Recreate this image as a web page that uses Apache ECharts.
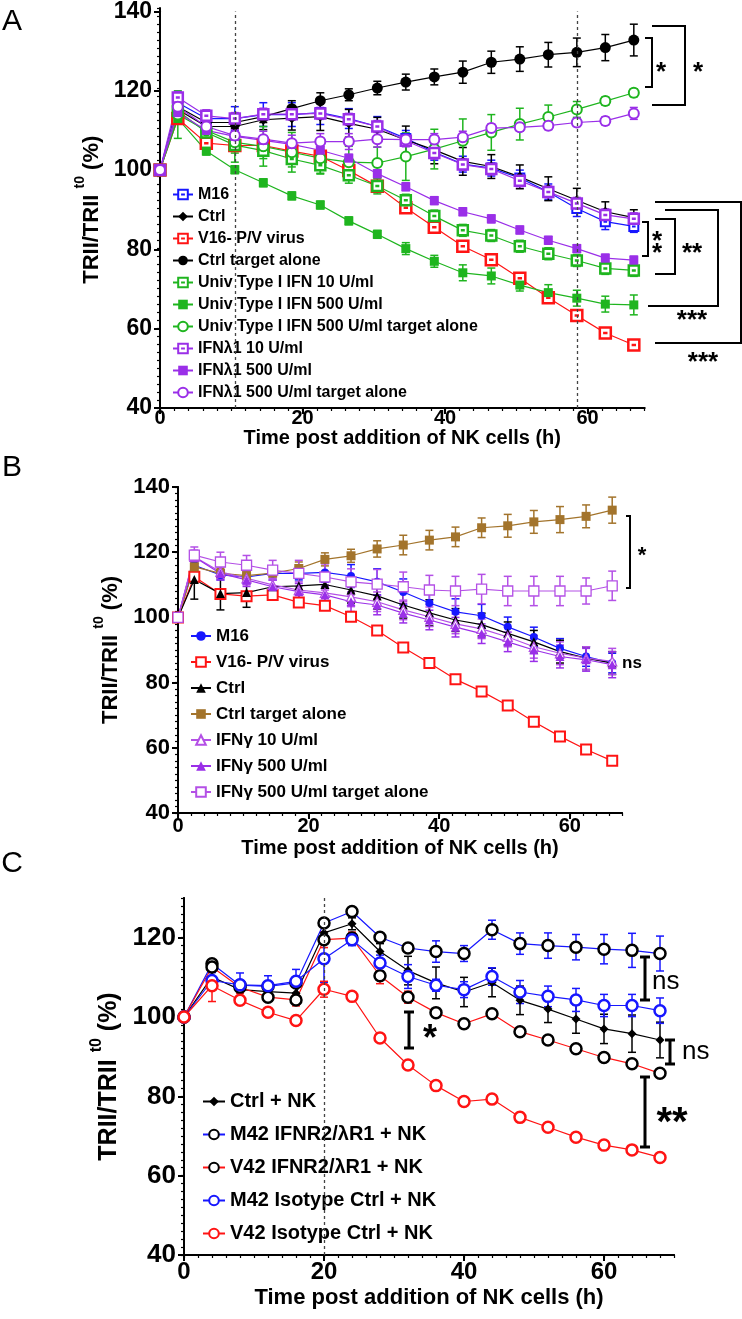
<!DOCTYPE html>
<html>
<head>
<meta charset="utf-8">
<script src="https://cdn.jsdelivr.net/npm/echarts@6/dist/echarts.min.js"></script>
<style>
html, body { margin: 0; padding: 0; background: #fff; }
#main { width: 742px; height: 1319px; }
</style>
</head>
<body>
<div id="main"></div>
<script>
// 时间点 (h)
var timeAB = [0, 2.5, 6.5, 10.5, 14.5, 18.5, 22.5, 26.5, 30.5, 34.5, 38.5, 42.5, 46.5, 50.5, 54.5, 58.5, 62.5, 66.5];
var timeC = [0, 4, 8, 12, 16, 20, 24, 28, 32, 36, 40, 44, 48, 52, 56, 60, 64, 68];
var ticksX = [0, 20, 40, 60];
var ticksYAB = [40, 60, 80, 100, 120, 140];
var ticksYC = [40, 60, 80, 100, 120];
var dottedA = [10.5, 58.5];
var dottedC = [20];

// panel A
var aM16 = [100, 117, 113, 113, 114, 114, 114.5, 113, 111, 108, 104.5, 101.5, 100.5, 98, 94.5, 90.3, 87, 85.8];
var aCtrl = [100, 115.3, 111, 111, 112.7, 113.1, 113.5, 111.8, 110.3, 107.6, 105.1, 102.2, 100.9, 98.3, 95.3, 92.4, 89.5, 88];
var aV16 = [100, 113, 106.8, 106.2, 106.2, 104.8, 103.5, 99.9, 95.9, 90.5, 85.6, 80.8, 77.4, 72.7, 67.8, 63.3, 58.9, 55.9];
var aCtrlAlone = [100, 116, 112, 112, 113.5, 115.5, 117.5, 119, 120.7, 122.2, 123.5, 124.7, 127.2, 128, 129.1, 129.7, 130.9, 132.8];
var aU10 = [100, 115, 109.5, 106.3, 104.9, 102.8, 101.2, 98.7, 96, 92.4, 88.4, 84.8, 83.5, 80.8, 78.9, 77.2, 75.2, 74.7];
var aU500 = [100, 113, 104.8, 100.1, 96.8, 93.5, 91.2, 87.2, 83.8, 80.2, 77, 74.1, 73.3, 71, 69.1, 67.7, 66.2, 66];
var aU500Alone = [100, 114, 110, 107, 106, 104.5, 103, 102, 101.8, 103.4, 105.3, 107.4, 109.5, 111.6, 113.4, 115.3, 117.4, 119.5];
var aL10 = [100, 118.3, 113.7, 113, 114.1, 114.1, 114.3, 112.8, 111, 107.4, 104.3, 101.4, 100.3, 97.3, 94.5, 91.6, 88.7, 87.7];
var aL500 = [100, 114.5, 110, 108.5, 107.5, 106.5, 105, 103, 99.1, 95.8, 92.3, 89.5, 87.7, 84.9, 82.3, 80.2, 77.8, 77.3];
var aL500Alone = [100, 116, 111, 108.7, 107.8, 106.8, 107.2, 107.2, 107.8, 107.7, 107.7, 108.3, 110.6, 110.8, 111.2, 112, 112.4, 114.3];

var eaM16 = [0, 1.5, 1.5, 3, 3, 3, 3, 2.5, 2.5, 2, 2, 2, 2, 2, 2, 2, 2, 1.5];
var eaCtrl = [0, 1.5, 1.5, 2, 2.5, 3, 3.5, 3.5, 3, 3.5, 3.5, 3.5, 3, 3, 3, 3, 2.5, 2];
var eaV16 = [0, 1, 1, 1, 1, 1, 1, 1, 1, 1, 1, 1, 1, 1, 1, 1, 1, 1];
var eaCtrlAlone = [0, 1.5, 1.5, 1.5, 1.5, 2, 2, 1.5, 1.7, 2, 2, 2.8, 2.8, 3.1, 3.1, 3.6, 3.3, 4];
var eaU10 = [0, 2, 2, 2, 2, 2, 2, 2, 2, 1.5, 1.5, 1.5, 1.5, 1.5, 1.5, 1.5, 1.5, 1.5];
var eaU500 = [0, 1, 1, 1, 1, 1, 1, 1, 1, 1.5, 1.5, 2, 2, 1.5, 2, 2, 2, 2.5];
var eaU500Alone = [0, 6, 5, 5, 5, 5, 4, 4, 4, 6, 5, 5.5, 4.5, 4, 3, 2, 1, 1];
var eaL10 = [0, 1.5, 1.5, 1.5, 1.5, 1.5, 1.5, 1.5, 1.5, 1.5, 1.5, 1.5, 1.5, 1.5, 1.5, 1.5, 1.5, 1.5];
var eaL500 = [0, 1, 1, 1, 1, 1, 1, 1, 1, 1, 1, 1, 1, 1, 1, 1, 1, 1];
var eaL500Alone = [0, 1.5, 1.5, 1.5, 2, 2, 2, 2, 2, 1.5, 1.5, 1.5, 1, 1, 1, 1, 1, 1.5];

// panel B
var bM16 = [100, 116, 113, 112.4, 113.5, 113.5, 113.8, 112.7, 110.9, 107.8, 104.4, 101.7, 100.5, 97.1, 94, 90.5, 88, 86];
var bV16 = [100, 112.5, 107.2, 106.5, 106.9, 104.6, 103.6, 100.2, 96, 90.8, 86, 81, 77.3, 73, 68, 63.5, 59.5, 56];
var bCtrl = [100, 111.6, 107.3, 107.6, 109.4, 109.7, 110.1, 108.4, 106.6, 103.8, 101.4, 99.2, 97.8, 95.1, 92.5, 89.5, 87.5, 86];
var bCtrlAlone = [100, 115.5, 113.5, 112.8, 113.6, 115, 117.8, 118.9, 121, 122.2, 123.7, 124.7, 127.5, 128.1, 129.3, 130, 131, 132.9];
var bG10 = [100, 118.6, 114, 112, 110, 108.4, 107.5, 106.3, 104.8, 102.3, 100.2, 98, 96.5, 94, 91, 89, 87.5, 86.5];
var bG500 = [100, 118.5, 113.5, 111.5, 109.4, 107.9, 106.9, 104.8, 103.8, 101.3, 99.2, 97, 95, 92.5, 90, 88, 87, 85.5];
var bG500Alone = [100, 119.1, 117, 116, 114.5, 113.5, 112.4, 110.9, 110.2, 109.4, 108.4, 108.1, 108.7, 108.1, 108.1, 108.1, 108.1, 109.7];

var ebM16 = [0, 1, 1.5, 2, 2, 2, 3, 3.5, 4, 4, 4, 4, 3.5, 3, 3, 3, 3, 3];
var ebV16 = [0, 1, 1, 1, 1, 1, 1, 1, 1, 1, 1, 1, 1, 1, 1, 1, 1, 1];
var ebCtrl = [0, 6, 5, 4.5, 4, 4, 4, 4, 4, 4, 4, 3.5, 3.5, 3.5, 3.5, 3.5, 3.5, 3.5];
var ebCtrlAlone = [0, 1.5, 1.5, 1.5, 1.5, 2, 2, 2, 2.5, 3, 3, 3, 3, 3.5, 3.5, 4, 3.5, 4];
var ebG10 = [0, 2, 2, 2, 2, 2.5, 2.5, 3, 3, 3, 3, 3, 3, 3, 3.5, 3.5, 3.5, 4];
var ebG500 = [0, 2, 2, 2, 2, 2.5, 2.5, 3, 3, 3, 3, 3, 3, 3, 3.5, 3.5, 3.5, 4];
var ebG500Alone = [0, 2.5, 3, 3, 3, 4, 4, 4, 4.5, 4.5, 4.5, 4.5, 4.5, 4.5, 4.5, 4.5, 4, 4.5];

// panel C
var cCtrl = [100, 110.1, 106.9, 106.4, 106, 121.2, 123.5, 116.5, 111.7, 108.6, 106.3, 108.7, 104.2, 102, 99.5, 97, 95.8, 94.2];
var cM42R = [100, 113.4, 108, 107.7, 108.6, 123.7, 126.6, 120.1, 117.4, 116.5, 116, 122, 118.5, 118, 117.6, 117.1, 116.8, 116];
var cV42R = [100, 112.6, 107.5, 105, 104.3, 119.5, 119.9, 110.4, 105, 101.1, 98.3, 100.8, 96.3, 94.2, 92, 89.8, 88.2, 85.8];
var cM42I = [100, 109.2, 108.1, 107.9, 109, 114.7, 119.5, 113.6, 110.2, 108, 106.9, 110.2, 106.3, 105.2, 104.3, 102.9, 102.9, 101.6];
var cV42I = [100, 107.9, 104.2, 101.2, 99.1, 107, 105.2, 94.7, 87.9, 82.7, 78.7, 79.3, 74.7, 72.2, 69.7, 67.7, 66.5, 64.6];

var ecCtrl = [0, 1.5, 1.5, 1.5, 1.5, 2, 1.5, 2, 3.6, 4, 3.7, 3.6, 3.6, 3.4, 3.6, 3.7, 4.7, 4.5];
var ecM42R = [0, 1, 1, 1, 1, 1, 1, 1, 1, 2.7, 2, 2.4, 2.7, 3.2, 3.2, 3.7, 4.3, 4.4];
var ecV42R = [0, 1, 1.5, 1, 1.5, 2, 1.5, 2, 1.5, 1, 1, 1, 1, 1, 1, 1, 1, 1];
var ecM42I = [0, 2, 3, 2.5, 3, 6, 1.5, 2, 3, 1.5, 2, 2.2, 2.9, 2.6, 2.9, 2.8, 2.8, 3.2];
var ecV42I = [0, 4, 1, 1, 1, 2, 1, 1, 1, 1, 1, 1, 1.2, 1, 1, 1, 1, 1];

var FONT = '"Liberation Sans", Arial, sans-serif';
var BLUE = '#1717ff', RED = '#ff1414', GREEN = '#1fb51f', PURPLE = '#9a2fe8', VIOLET = '#b450e6', BROWN = '#a3742c';
var DASHRECT = 'path://M0,0L10,0L10,10L0,10Z M3,5L7,5';

var chart = echarts.init(document.getElementById('main'), null, { renderer: 'canvas' });

// 折线
function line(gi, name, xs, ys, o) {
    return {
        type: 'line', name: name, xAxisIndex: gi, yAxisIndex: gi, z: 3,
        data: xs.map(function(x, i) { return [x, ys[i]]; }),
        symbol: o.symbol, symbolSize: o.size, showAllSymbol: true,
        lineStyle: { color: o.line || o.color, width: 1.2 },
        itemStyle: { color: o.open ? '#fff' : o.color, borderColor: o.border || o.color, borderWidth: o.open ? (o.bw || 2) : 0 },
        emphasis: { disabled: true }
    };
}

// 误差线
function err(gi, xs, ys, es, color, cap) {
    var data = [];
    xs.forEach(function(x, i) { if (es[i] > 0) data.push([x, ys[i], es[i]]); });
    return {
        type: 'custom', xAxisIndex: gi, yAxisIndex: gi, z: 2, silent: true, clip: false,
        data: data, encode: { x: 0, y: 1 },
        renderItem: function(params, api) {
            var x = api.value(0), y = api.value(1), e = api.value(2);
            var hi = api.coord([x, y + e]), lo = api.coord([x, y - e]);
            var st = { stroke: color, lineWidth: 1.5 };
            return { type: 'group', children: [
                { type: 'line', shape: { x1: hi[0], y1: hi[1], x2: lo[0], y2: lo[1] }, style: st },
                { type: 'line', shape: { x1: hi[0] - cap, y1: hi[1], x2: hi[0] + cap, y2: hi[1] }, style: st },
                { type: 'line', shape: { x1: lo[0] - cap, y1: lo[1], x2: lo[0] + cap, y2: lo[1] }, style: st }
            ] };
        }
    };
}

function xMain(gi, max, fs, margin, nameFs, nameGap) {
    return {
        gridIndex: gi, type: 'value', min: 0, max: max, interval: 20,
        axisLine: { show: true, onZero: false, lineStyle: { color: '#000', width: 2 } },
        axisTick: { show: true, length: 6, lineStyle: { color: '#000', width: 2 }, customValues: ticksX },
        axisLabel: { color: '#000', fontFamily: FONT, fontWeight: 'bold', fontSize: fs, margin: margin, customValues: ticksX },
        splitLine: { show: false },
        name: 'Time post addition of NK cells (h)', nameLocation: 'middle', nameGap: nameGap,
        nameTextStyle: { color: '#000', fontFamily: FONT, fontWeight: 'bold', fontSize: nameFs }
    };
}
function yMain(gi, min, max, ticks, fs, nameFs, nameGap) {
    return {
        gridIndex: gi, type: 'value', min: min, max: max, interval: 20,
        axisLine: { show: true, onZero: false, lineStyle: { color: '#000', width: 2 } },
        axisTick: { show: true, length: 6, lineStyle: { color: '#000', width: 2 }, customValues: ticks },
        axisLabel: { color: '#000', fontFamily: FONT, fontWeight: 'bold', fontSize: fs, margin: 8, customValues: ticks },
        splitLine: { show: false },
        name: '{m|TRII/TRII }{s|t0}{m| (%)}', nameLocation: 'middle', nameGap: nameGap, nameRotate: 90,
        nameTextStyle: { rich: {
            m: { fontFamily: FONT, fontWeight: 'bold', fontSize: nameFs, color: '#000', lineHeight: nameFs + 8, verticalAlign: 'bottom' },
            s: { fontFamily: FONT, fontWeight: 'bold', fontSize: Math.round(nameFs * 0.62), color: '#000', lineHeight: nameFs + 8, verticalAlign: 'top' }
        } }
    };
}
// 次刻度 (间隔 2)
function minorAxis(gi, min, max) {
    return {
        gridIndex: gi, type: 'value', min: min, max: max, interval: 2,
        axisLine: { show: true, onZero: false, lineStyle: { color: '#000', width: 2 } },
        axisTick: { show: true, length: 3, lineStyle: { color: '#000', width: 1.2 } },
        axisLabel: { show: false }, splitLine: { show: false }
    };
}

var gridA = { left: 160, top: 8, width: 484.5, height: 400 };
var gridB = { left: 178, top: 487, width: 444, height: 326 };
var gridC = { left: 184, top: 898, width: 490, height: 357 };

var dotted = function(xs) {
    return { silent: true, symbol: ['none', 'none'], label: { show: false },
        lineStyle: { type: [3, 3], color: '#444', width: 1.3 },
        data: xs.map(function(v) { return { xAxis: v }; }) };
};

var seriesA = [
    line(0, 'A|M16', timeAB, aM16, { symbol: DASHRECT, size: 9, color: BLUE, open: true }),
    line(0, 'A|Ctrl', timeAB, aCtrl, { symbol: 'diamond', size: 10, color: '#000' }),
    line(0, 'A|V16- P/V virus', timeAB, aV16, { symbol: DASHRECT, size: 11, color: RED, open: true, bw: 2.5 }),
    line(0, 'A|Ctrl target alone', timeAB, aCtrlAlone, { symbol: 'circle', size: 11, color: '#000' }),
    line(0, 'A|Univ Type I IFN 10 U/ml', timeAB, aU10, { symbol: DASHRECT, size: 10, color: GREEN, open: true, bw: 2.5 }),
    line(0, 'A|Univ Type I IFN 500 U/ml', timeAB, aU500, { symbol: 'rect', size: 9, color: GREEN }),
    line(0, 'A|Univ Type I IFN 500 U/ml target alone', timeAB, aU500Alone, { symbol: 'circle', size: 10, color: GREEN, open: true }),
    line(0, 'A|IFN\u03bb1 10 U/ml', timeAB, aL10, { symbol: DASHRECT, size: 10, color: PURPLE, open: true, bw: 2.5 }),
    line(0, 'A|IFN\u03bb1 500 U/ml', timeAB, aL500, { symbol: 'rect', size: 9, color: PURPLE }),
    line(0, 'A|IFN\u03bb1 500 U/ml target alone', timeAB, aL500Alone, { symbol: 'circle', size: 10, color: PURPLE, open: true })
];
seriesA[0].markLine = dotted(dottedA);

var seriesB = [
    line(1, 'B|M16', timeAB, bM16, { symbol: 'circle', size: 8, color: BLUE }),
    line(1, 'B|V16- P/V virus', timeAB, bV16, { symbol: 'rect', size: 10, color: RED, open: true }),
    line(1, 'B|Ctrl', timeAB, bCtrl, { symbol: 'triangle', size: 9, color: '#000' }),
    line(1, 'B|Ctrl target alone', timeAB, bCtrlAlone, { symbol: 'rect', size: 9, color: BROWN }),
    line(1, 'B|IFN\u03b3 10 U/ml', timeAB, bG10, { symbol: 'triangle', size: 9, color: VIOLET, open: true, bw: 1.3 }),
    line(1, 'B|IFN\u03b3 500 U/ml', timeAB, bG500, { symbol: 'triangle', size: 9, color: PURPLE }),
    line(1, 'B|IFN\u03b3 500 U/ml target alone', timeAB, bG500Alone, { symbol: 'rect', size: 10, color: VIOLET, open: true, bw: 1.3 })
];

var seriesC = [
    line(2, 'C|Ctrl + NK', timeC, cCtrl, { symbol: 'diamond', size: 9, color: '#000' }),
    line(2, 'C|M42 IFNR2/\u03bbR1 + NK', timeC, cM42R, { symbol: 'circle', size: 11, color: '#000', line: BLUE, open: true, bw: 2.5 }),
    line(2, 'C|V42 IFNR2/\u03bbR1 + NK', timeC, cV42R, { symbol: 'circle', size: 11, color: '#000', line: RED, open: true, bw: 2.5 }),
    line(2, 'C|M42 Isotype Ctrl + NK', timeC, cM42I, { symbol: 'circle', size: 11, color: BLUE, open: true, bw: 2.5 }),
    line(2, 'C|V42 Isotype Ctrl + NK', timeC, cV42I, { symbol: 'circle', size: 11, color: RED, open: true, bw: 2.5 })
];
seriesC[0].markLine = dotted(dottedC);

var errors = [
    err(0, timeAB, aM16, eaM16, BLUE, 4), err(0, timeAB, aCtrl, eaCtrl, '#000', 4),
    err(0, timeAB, aV16, eaV16, RED, 4), err(0, timeAB, aCtrlAlone, eaCtrlAlone, '#000', 4),
    err(0, timeAB, aU10, eaU10, GREEN, 4), err(0, timeAB, aU500, eaU500, GREEN, 4),
    err(0, timeAB, aU500Alone, eaU500Alone, GREEN, 4), err(0, timeAB, aL10, eaL10, PURPLE, 4),
    err(0, timeAB, aL500, eaL500, PURPLE, 4), err(0, timeAB, aL500Alone, eaL500Alone, PURPLE, 4),
    err(1, timeAB, bM16, ebM16, BLUE, 4), err(1, timeAB, bV16, ebV16, RED, 4),
    err(1, timeAB, bCtrl, ebCtrl, '#000', 4), err(1, timeAB, bCtrlAlone, ebCtrlAlone, BROWN, 4),
    err(1, timeAB, bG10, ebG10, VIOLET, 4), err(1, timeAB, bG500, ebG500, PURPLE, 4),
    err(1, timeAB, bG500Alone, ebG500Alone, VIOLET, 4),
    err(2, timeC, cCtrl, ecCtrl, '#000', 4), err(2, timeC, cM42R, ecM42R, BLUE, 4),
    err(2, timeC, cV42R, ecV42R, RED, 4), err(2, timeC, cM42I, ecM42I, BLUE, 4),
    err(2, timeC, cV42I, ecV42I, RED, 4)
];

function strip(name) { return name.split('|')[1]; }
function legendCfg(series, left, top, fs, gap, w) {
    return {
        data: series.map(function(s) { return s.name; }), formatter: strip, selectedMode: false,
        orient: 'vertical', left: left, top: top, padding: 0, itemWidth: w, itemHeight: 12, itemGap: gap,
        textStyle: { fontFamily: FONT, fontWeight: 'bold', fontSize: fs, color: '#000', lineHeight: fs + 1 }
    };
}

// 注释
function br(points) {
    return { type: 'polyline', shape: { points: points }, style: { stroke: '#000', lineWidth: 2, fill: null }, silent: true };
}
function capBar(x, y1, y2) {
    return { type: 'group', silent: true, children: [
        { type: 'line', shape: { x1: x, y1: y1, x2: x, y2: y2 }, style: { stroke: '#000', lineWidth: 3 } },
        { type: 'line', shape: { x1: x - 5, y1: y1, x2: x + 5, y2: y1 }, style: { stroke: '#000', lineWidth: 3 } },
        { type: 'line', shape: { x1: x - 5, y1: y2, x2: x + 5, y2: y2 }, style: { stroke: '#000', lineWidth: 3 } }
    ] };
}
function txt(x, y, s, fs, weight, align) {
    return { type: 'text', x: x, y: y, silent: true,
        style: { text: s, fontFamily: FONT, fontSize: fs, fontWeight: weight || 'bold', fill: '#000', align: align || 'center', verticalAlign: 'middle' } };
}

var graphics = [
    txt(12, 22, 'A', 30, 'normal'), txt(12, 468, 'B', 30, 'normal'), txt(12, 864, 'C', 30, 'normal'),
    br([[645, 38], [652, 38], [652, 87], [645, 87]]), txt(661, 73, '*', 26),
    br([[652, 26], [685, 26], [685, 105], [652, 105]]), txt(698, 73, '*', 26),
    br([[642, 222], [648, 222], [648, 256], [642, 256]]), txt(657, 242, '*', 26), txt(657, 254, '*', 26),
    br([[655, 219], [675, 219], [675, 274], [655, 274]]), txt(692, 254, '**', 26),
    br([[665, 210], [718, 210], [718, 306], [648, 306]]), txt(692, 321, '***', 26),
    br([[655, 202], [741, 202], [741, 343], [655, 343]]), txt(703, 363, '***', 26),
    br([[626, 516], [630, 516], [630, 588], [626, 588]]), txt(642, 556, '*', 22),
    txt(622, 663, 'ns', 17, 'bold', 'left'),
    capBar(409, 1012, 1048), txt(430, 1040, '*', 36),
    capBar(645, 957, 1000), txt(652, 982, 'ns', 26, 'normal', 'left'),
    capBar(670, 1040, 1064), txt(682, 1052, 'ns', 26, 'normal', 'left'),
    capBar(645, 1077, 1147), txt(672, 1124, '**', 40)
];

chart.setOption({
    animation: false,
    backgroundColor: '#fff',
    grid: [gridA, gridB, gridC, gridA, gridB, gridC],
    xAxis: [
        xMain(0, 68, 20, 0, 20, 16), xMain(1, 68, 20, 3, 20, 25), xMain(2, 70, 24, 5, 22, 32),
        minorAxis(3, 0, 68), minorAxis(4, 0, 68), minorAxis(5, 0, 70)
    ],
    yAxis: [
        yMain(0, 40, 140, ticksYAB, 23, 22, 52), yMain(1, 40, 140, ticksYAB, 22, 22, 56), yMain(2, 40, 130, ticksYC, 26, 25, 62),
        minorAxis(3, 40, 140), minorAxis(4, 40, 140), minorAxis(5, 40, 130)
    ],
    legend: [
        legendCfg(seriesA, 172, 186, 16, 5, 20),
        legendCfg(seriesB, 190, 627, 17, 8, 20),
        legendCfg(seriesC, 202, 1091, 20, 12, 22)
    ],
    series: seriesA.concat(seriesB, seriesC, errors),
    graphic: graphics
});
</script>
</body>
</html>
